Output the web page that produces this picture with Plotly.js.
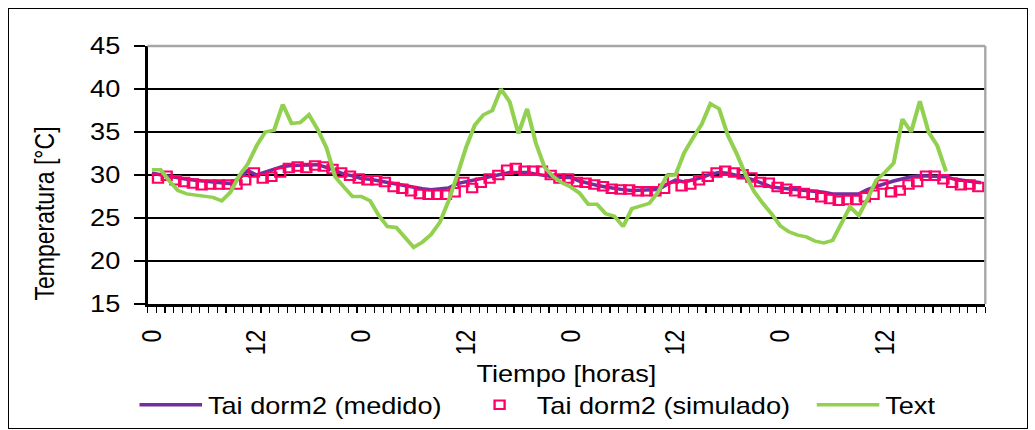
<!DOCTYPE html>
<html>
<head>
<meta charset="utf-8">
<script src="https://cdn.plot.ly/plotly-3.0.1.min.js"></script>
<style>
  html, body { margin: 0; padding: 0; background: #ffffff; overflow: hidden; }
  #chart { position: absolute; left: 0; top: 0; width: 877px; height: 430px; transform: scaleX(1.18); transform-origin: 0 0; }
  #frame { position: absolute; left: 8px; top: 8px; width: 1020px; height: 421px; border: 1.5px solid #000; box-sizing: border-box; pointer-events: none; }
</style>
</head>
<body>
<div id="chart"></div>
<div id="frame"></div>
<script>
// Hourly categories (4 days)
const hours = [0,1,2,3,4,5,6,7,8,9,10,11,12,13,14,15,16,17,18,19,20,21,22,23,
  24,25,26,27,28,29,30,31,32,33,34,35,36,37,38,39,40,41,42,43,44,45,46,47,
  48,49,50,51,52,53,54,55,56,57,58,59,60,61,62,63,64,65,66,67,68,69,70,71,
  72,73,74,75,76,77,78,79,80,81,82,83,84,85,86,87,88,89,90,91,92,93,94,95];

// Axis tick labels
const tickHours = [0,12,24,36,48,60,72,84];
const tickLabels = ["0","12","0","12","0","12","0","12"];

// Tai dorm2 (medido) [°C]
const medido = [30.2,30.0,29.8,29.6,29.5,29.4,29.3,29.2,29.0,29.0,
  29.6,30.5,30.0,30.3,30.7,31.0,31.1,31.1,31.1,31.2,
  30.9,30.5,30.1,29.9,29.6,29.5,29.3,29.1,28.9,28.8,
  28.5,28.4,28.3,28.4,28.5,29.0,29.2,29.4,29.6,29.8,
  30.1,30.3,30.3,30.3,30.1,29.9,29.8,29.7,29.7,29.3,
  29.0,28.8,28.6,28.4,28.3,28.2,28.2,28.2,28.3,28.9,
  29.4,29.2,29.4,29.7,30.1,30.3,30.2,30.0,29.7,29.4,
  29.0,28.6,28.5,28.4,28.3,28.2,28.2,28.0,27.8,27.8,
  27.8,27.8,28.3,28.7,29.0,29.3,29.6,29.8,29.9,29.9,
  29.9,29.8,29.5,29.4,29.2,29.1];

// Tai dorm2 (simulado) [°C]
const simulado = [29.6,29.9,29.4,29.2,29.0,28.8,28.9,28.9,28.9,28.9,
  29.4,30.3,29.6,29.8,30.3,30.8,31.0,30.8,31.1,31.0,
  30.7,30.3,29.9,29.6,29.4,29.4,29.2,28.6,28.4,28.1,
  27.8,27.7,27.7,27.7,28.0,29.2,28.5,29.1,29.6,30.0,
  30.6,30.8,30.5,30.5,30.5,30.0,29.6,29.6,29.2,29.1,
  28.9,28.7,28.4,28.3,28.3,28.1,28.1,28.1,28.4,29.6,
  28.7,28.9,29.4,29.8,30.3,30.5,30.3,30.1,29.7,29.2,
  29.1,28.6,28.4,28.1,27.9,27.7,27.4,27.2,27.0,27.1,
  27.1,27.4,27.7,28.9,28.0,28.2,28.9,29.2,29.9,29.9,
  29.5,29.1,28.8,28.9,28.6];

// Text (exterior) [°C]
const textTemp = [30.6,30.6,29.3,28.2,27.8,27.7,27.5,27.4,27.0,28.0,
  29.9,31.3,33.4,35.0,35.2,38.2,36.0,36.1,37.0,35.3,
  33.2,29.8,28.6,27.5,27.5,27.0,25.3,24.0,23.9,22.7,
  21.6,22.2,23.1,24.5,27.0,30.0,33.2,35.8,37.0,37.5,
  40.0,38.5,34.8,37.7,33.7,30.9,29.8,29.1,28.6,27.9,
  26.6,26.6,25.5,25.2,24.0,26.1,26.4,26.7,28.0,29.9,
  30.0,32.6,34.3,35.9,38.3,37.7,34.6,32.5,30.1,28.1,
  26.7,25.5,24.1,23.4,23.0,22.8,22.3,22.1,22.4,24.3,
  26.3,25.3,27.2,29.4,30.3,31.4,36.5,35.0,38.6,35.0,
  33.4,30.4];

// simulated samples are time-shifted relative to the hourly grid
const simOffsetHours = 0.7;
const simHours = hours.slice(0, simulado.length).map(h => h + simOffsetHours);
const boundaryTicks = hours.map(h => h - 0.5).concat([hours[hours.length - 1] + 0.5]);

const FONT = '"Liberation Sans", Arial, sans-serif';

const traces = [
  { x: hours, y: medido, type: 'scatter', mode: 'lines', name: 'Tai dorm2 (medido)', legend: 'legend',
    line: { color: '#7030A0', width: 3.5 } },
  { x: simHours, y: simulado, type: 'scatter', mode: 'markers', name: 'Tai dorm2 (simulado)', legend: 'legend2',
    marker: { symbol: 'square-open', size: 8.5, color: '#FF0066', line: { width: 2, color: '#FF0066' } } },
  { x: hours, y: textTemp, type: 'scatter', mode: 'lines', name: 'Text', legend: 'legend3',
    line: { color: '#92D050', width: 3.5 } }
];

function legendAt(x) {
  return { orientation: 'h', x: x, xanchor: 'left', y: -0.307, yanchor: 'top',
    itemwidth: 53, font: { family: FONT, size: 23, color: '#000' },
    bgcolor: 'rgba(0,0,0,0)', borderwidth: 0 };
}

const layout = {
  width: 877, height: 430,
  margin: { l: 125, r: 42, t: 46, b: 126, pad: 0, autoexpand: false },
  paper_bgcolor: '#ffffff', plot_bgcolor: '#ffffff',
  font: { family: FONT, size: 23, color: '#000000' },
  showlegend: true,
  legend: legendAt(-0.0166),
  legend2: legendAt(0.3759),
  legend3: legendAt(0.7918),
  xaxis: {
    range: [-0.5, 95.5], tickmode: 'array', tickvals: tickHours, ticktext: tickLabels,
    tickangle: -90, ticks: 'outside', ticklen: 6, tickcolor: 'rgba(0,0,0,0)',
    ticklabelstandoff: 8,
    tickfont: { family: FONT, size: 23, color: '#000' },
    showline: true, linecolor: '#000', linewidth: 2.5, showgrid: false, zeroline: false,
    minor: { tickmode: 'array', tickvals: boundaryTicks, ticks: 'outside', ticklen: 6, tickcolor: '#000', tickwidth: 1, showgrid: false },
    title: { text: 'Tiempo [horas]', font: { family: FONT, size: 23, color: '#000' }, standoff: 12 },
    automargin: false, fixedrange: true
  },
  yaxis: {
    range: [15, 45], tick0: 15, dtick: 5, ticks: 'outside', ticklen: 9, tickwidth: 1.5, tickcolor: '#000',
    ticklabelstandoff: 7,
    tickfont: { family: FONT, size: 23, color: '#000' },
    showline: true, linecolor: '#000', linewidth: 2.5,
    showgrid: true, gridcolor: '#000', gridwidth: 1.5, zeroline: false,
    automargin: false, fixedrange: true
  },
  shapes: [
    { type: 'line', xref: 'paper', yref: 'paper', x0: 0, x1: 1, y0: 1, y1: 1, line: { color: '#a6a6a6', width: 2.5 } },
    { type: 'line', xref: 'paper', yref: 'paper', x0: 1, x1: 1, y0: 0, y1: 1, line: { color: '#a6a6a6', width: 2 } }
  ],
  annotations: [
    { text: 'Temperatura [°C]', xref: 'paper', yref: 'paper', x: -0.1232, y: 0.349,
      xanchor: 'center', yanchor: 'middle', textangle: -90, showarrow: false,
      font: { family: FONT, size: 23, color: '#000' } }
  ]
};

Plotly.newPlot('chart', traces, layout, { staticPlot: true, displayModeBar: false });
</script>
</body>
</html>
